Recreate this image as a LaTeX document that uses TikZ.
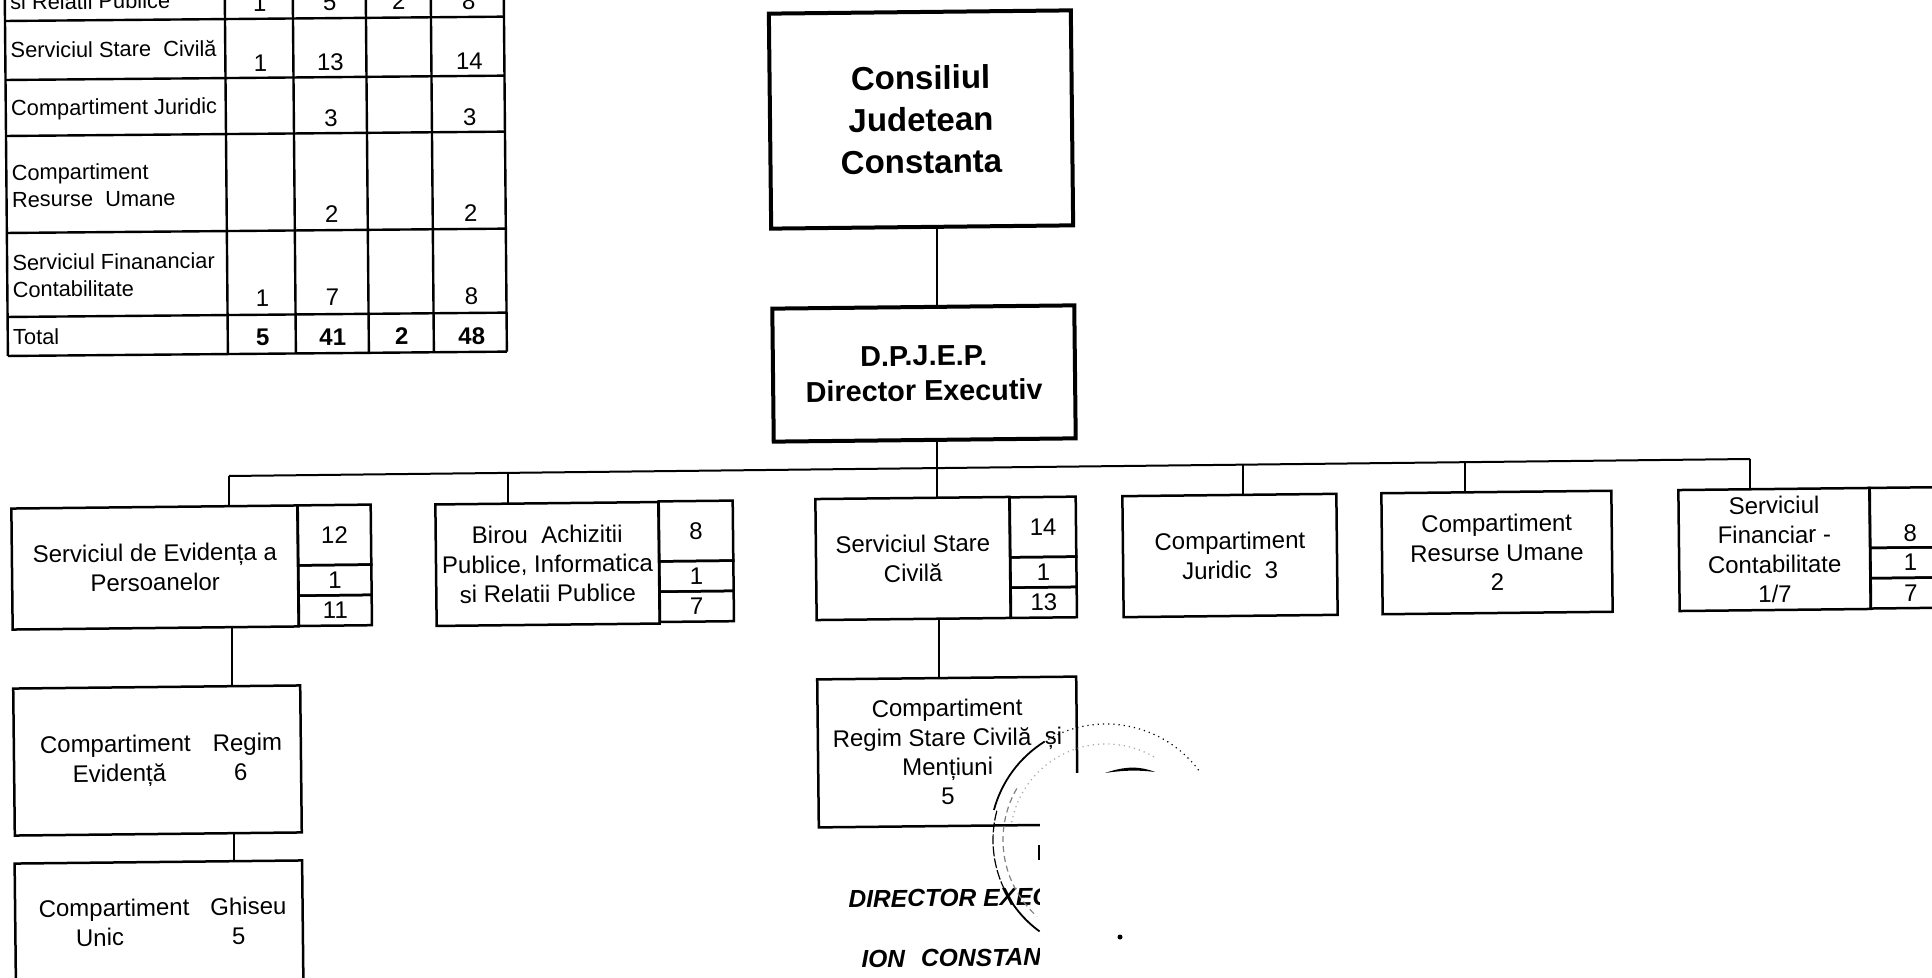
\documentclass[tikz,border=0pt]{standalone}
\usepackage{fontspec}
\setmainfont{Liberation Sans}
\usetikzlibrary{positioning}

\tikzset{
    bx/.style 2 args={draw, line width=1.25pt, rotate=0.62, inner sep=0pt, outer sep=0pt, align=center,
        minimum width=#1*0.5pt, minimum height=#2*0.5pt, font=\fontsize{12}{14.75}\selectfont},
    topbx/.style 2 args={bx={#1}{#2}, line width=2pt},
    conn/.style={line width=1pt},
    tabline/.style={line width=1.2pt},
    tablab/.style={anchor=west, align=left, inner sep=0pt, font=\fontsize{10.9}{13.5}\selectfont},
    tabnum/.style={inner sep=0pt, font=\fontsize{12}{13.5}\selectfont},
    signtext/.style={anchor=west, inner sep=0pt, rotate=0.62, font=\fontsize{12.3}{14}\selectfont\bfseries\itshape},
    sealline/.style={line width=0.6pt}
}

\begin{document}
\begin{tikzpicture}[x=0.5pt,y=-0.5pt]
    \useasboundingbox (0,0) rectangle (1932,978);
    \clip (0,0) rectangle (1932,978);

    %Table
    \begin{scope}[rotate around={0.5:(5,21)}, transform shape]
        \foreach \rowy in {21,80,136,233,317,356}
            \draw[tabline] (5,\rowy) -- (504,\rowy);
        \foreach \colx in {5,225,293,366,431,504}
            \draw[tabline] (\colx,-5) -- (\colx,356);
        \foreach \rownm/\laby/\numy/\txt/\na/\nb/\nc/\nd in {
            rel/2/5/{si Relatii Publice}/1/5/2/8,
            sta/50/65/{Serviciul Stare~~Civilă}/1/13//14,
            jur/110/121/{Compartiment Juridic}//3//3,
            res/186/217/{Compartiment\\Resurse~~Umane}//2//2,
            fin/276/300/{Serviciul Finananciar\\Contabilitate}/1/7//8,
            tot/337/340/Total/\textbf{5}/\textbf{41}/\textbf{2}/\textbf{48}}
        {
            \node[tablab] (\rownm L) at (10,\laby) {\txt};
            \node[tabnum] (\rownm A) at (260,\numy) {\na};
            \node[tabnum] (\rownm B) at (330,\numy) {\nb};
            \node[tabnum] (\rownm C) at (399,\numy) {\nc};
            \node[tabnum] (\rownm D) at (469,\numy) {\nd};
        }
    \end{scope}

    %Top
    \node[topbx={302}{215}, font=\fontsize{16.5}{21}\selectfont\bfseries] (cons) at (921,119.5) {Consiliul\\Judetean\\Constanta};
    \node[topbx={302}{133}, font=\fontsize{14.4}{17.5}\selectfont\bfseries] (dpj) at (924,373.5) {D.P.J.E.P.\\Director Executiv};

    %Services
    \node[bx={286}{121}] (evid) at (155,567.5) {Serviciul de Evidența a\\Persoanelor};
    \node[bx={223}{121.5}] (birou) at (547.5,564) {Birou~~Achizitii\\Publice, Informatica\\si Relatii Publice};
    \node[bx={194}{121}] (stare) at (913,558.5) {Serviciul Stare\\Civilă};
    \node[bx={214}{121}] (jurid) at (1230,555.5) {Compartiment\\Juridic~~3};
    \node[bx={230}{121}] (resum) at (1497,552.5) {Compartiment\\Resurse Umane\\2};
    \node[bx={191}{121}] (finan) at (1774.5,549.5) {Serviciul\\Financiar -\\Contabilitate\\1/7};

    %Number columns
    \foreach \nm/\cx/\cy/\cw/\na/\nb/\nc in {
        evid/334.5/535/73/12/1/11,
        birou/696/531/74/8/1/7,
        stare/1043/527/66/14/1/13,
        finan/1910/517.5/80/\raisebox{-12pt}[0pt][0pt]{8}/1/7}
    {
        \node[bx={\cw}{60}] (\nm A) at (\cx,\cy) {\na};
        \node[bx={\cw}{30.3}, below=0pt of \nm A] (\nm B) {\nb};
        \node[bx={\cw}{30.3}, below=0pt of \nm B] (\nm C) {\nc};
    }

    %Lower boxes
    \node[bx={287}{147}] (regev) at (157.5,760.5) {\hspace*{3.7pt}Compartiment\hspace{11pt}Regim\\\hspace*{2.5pt}Evidență\hspace{34pt}6};
    \node[bx={287.5}{120}] (ghis) at (159,922) {\hspace*{3.7pt}Compartiment\hspace{10.5pt}Ghiseu\\\hspace*{1.5pt}Unic\hspace{54pt}5};
    \node[bx={259}{148}] (regst) at (947.5,752) {Compartiment\\Regim Stare Civilă~~și\\Mențiuni\\5};

    %Bus
    \coordinate (busw) at (229,476);
    \coordinate (busb) at (508,473);
    \coordinate (trunk) at (937,468);
    \coordinate (busj) at (1243,464.7);
    \coordinate (busr) at (1465,462.2);
    \coordinate (buse) at (1750,459);
    \draw[conn] (busw) -- (buse);
    \draw[conn] (busw) -- (busw |- evid.north);
    \draw[conn] (busb) -- (busb |- birou.north);
    \draw[conn] (busj) -- (busj |- jurid.north);
    \draw[conn] (busr) -- (busr |- resum.north);
    \draw[conn] (buse) -- (buse |- finan.north);

    %Trunk
    \draw[conn] (cons.south -| trunk) -- (dpj.north -| trunk);
    \draw[conn] (dpj.south -| trunk) -- (stare.north -| trunk);

    %Down the columns
    \coordinate (evdown) at (232,600);
    \coordinate (regdown) at (234,800);
    \coordinate (stdown) at (939,600);
    \draw[conn] (evid.south -| evdown) -- (regev.north -| evdown);
    \draw[conn] (regev.south -| regdown) -- (ghis.north -| regdown);
    \draw[conn] (stare.south -| stdown) -- (regst.north -| stdown);

    %Signature
    \node[signtext] (direxec) at (848,899) {DIRECTOR EXEC};
    \node[signtext] (ionc) at (861,959) {ION\hspace{8pt}CONSTANT};

    %Blank patch
    \fill[white] (1040,773) rectangle (1300,978);

    %Seal
    \coordinate (seal) at (1106,840);
    \draw[sealline, dotted] ([shift={(-37:116)}]seal) arc[start angle=-37, end angle=-122, radius=116];
    \draw[sealline, line width=0.9pt] ([shift={(-122:116)}]seal) arc[start angle=-122, end angle=-165, radius=116];
    \draw[sealline, dash pattern=on 5pt off 1pt] ([shift={(-165:113)}]seal) arc[start angle=-165, end angle=-205, radius=113];
    \draw[sealline, line width=0.9pt] ([shift={(-205:113)}]seal) arc[start angle=-205, end angle=-234, radius=113];
    \draw[sealline, densely dashed, gray] ([shift={(-150:103)}]seal) arc[start angle=-150, end angle=-228, radius=103];
    \draw[sealline, dotted, gray!70] ([shift={(-60:96)}]seal) arc[start angle=-60, end angle=-170, radius=96];
    \fill (1105,773) .. controls (1125,766) and (1140,766) .. (1155,772) .. controls (1140,770) and (1125,770) .. (1105,773);
    \draw[line width=0.7pt] (1039,845) -- (1039,860);
    \fill (1120,937) circle (2.5);
\end{tikzpicture}
\end{document}
